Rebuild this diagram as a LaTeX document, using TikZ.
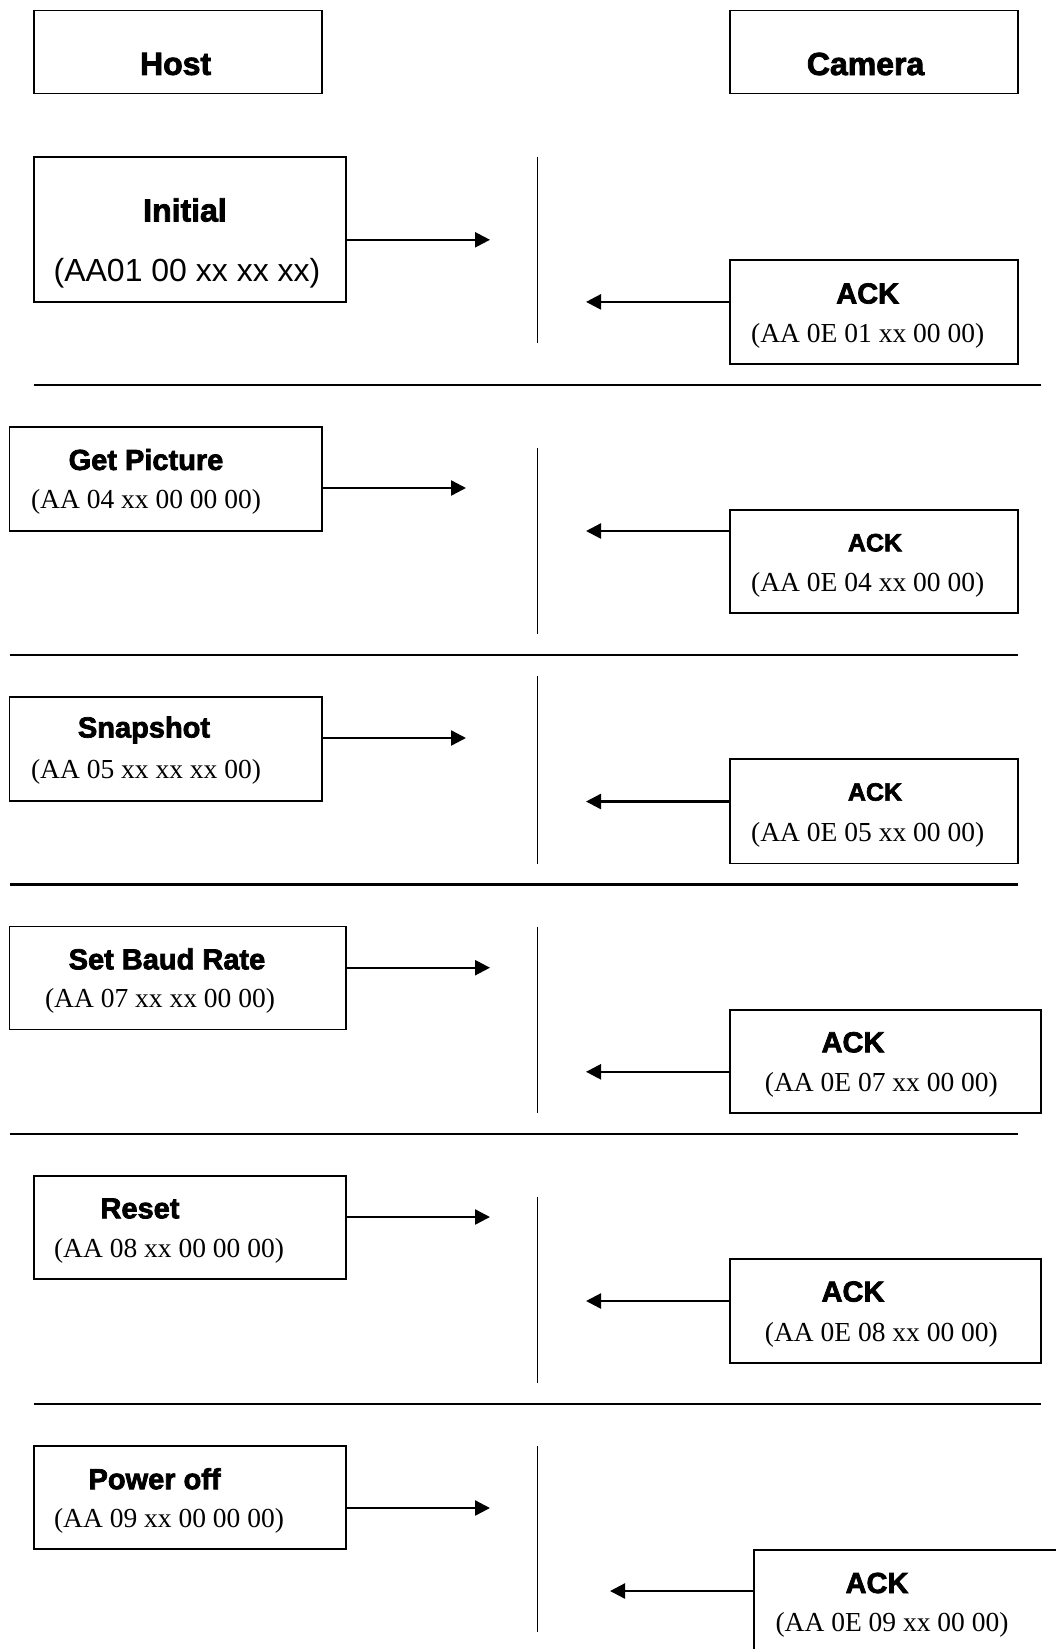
\documentclass[tikz,border=0pt]{standalone}
\usepackage{fontspec}
\setmainfont{Liberation Serif}
\newfontfamily\arial{Liberation Sans}
\newfontfamily\heavy[FakeBold=2.5]{Liberation Sans Bold}
\usetikzlibrary{arrows.meta}
\tikzset{
  box/.style={draw, line width=1.8pt, inner sep=0pt, rectangle},
  lbl/.style={inner sep=0pt, anchor=center},
  big/.style={lbl, font=\heavy\fontsize{32}{36}\selectfont},
  mid/.style={lbl, font=\heavy\fontsize{29}{33}\selectfont},
  sml/.style={lbl, font=\heavy\fontsize{25}{29}\selectfont},
  code/.style={lbl, font=\fontsize{27.5}{31}\selectfont},
  acode/.style={lbl, font=\arial\fontsize{32}{36}\selectfont},
  arr/.style={line width=2.4pt, -{Triangle[length=15pt,width=15pt]}},
  sep/.style={line width=2.4pt},
  life/.style={line width=1.8pt},
}
\begin{document}
\begin{tikzpicture}[x=1pt,y=-1pt]
\useasboundingbox (0,0) rectangle (1056,1649);
\clip (0,0) rectangle (1056,1649);
% header
\node[box, minimum width=288pt, minimum height=83pt] (host) at (177.8,52) {};
\node[box, minimum width=288pt, minimum height=83pt] (cam) at (874,52) {};
\node[big] (hostt) at (175.6,64) {Host};
\node[big] (camt) at (865.6,64) {Camera};
% section 1
\node[box, minimum width=312.3pt, minimum height=145.2pt] (init) at (189.9,229.3) {};
\node[big] (initt) at (185,210) {Initial};
\node[acode] (initc) at (187,273) {(AA01 00 xx xx xx)};
\node[box, minimum width=288pt, minimum height=104.2pt] (ack1) at (874,311.9) {};
\node[mid] (ack1t) at (867.7,293.5) {ACK};
\node[code] (ack1c) at (867.7,335.5) {(AA 0E 01 xx 00 00)};
\coordinate (a1) at (490,239.8);
\coordinate (r1) at (586,301.9);
\draw[arr] (init.east |- a1) -- (a1);
\draw[arr] (ack1.west |- r1) -- (r1);
\draw[life] (537.5,156.7) -- (537.5,343);
\draw[sep] (33.7,385) -- (1041.3,385);
% section 2
\node[box, minimum width=312.5pt, minimum height=104pt] (getp) at (165.7,479) {};
\node[mid] (getpt) at (146,459.6) {Get Picture};
\node[code] (getpc) at (146,501.6) {(AA 04 xx 00 00 00)};
\node[box, minimum width=288pt, minimum height=103pt] (ack2) at (874,561.5) {};
\node[sml] (ack2t) at (875,542.7) {ACK};
\node[code] (ack2c) at (867.7,584.7) {(AA 0E 04 xx 00 00)};
\coordinate (a2) at (466,488);
\coordinate (r2) at (586,531);
\draw[arr] (getp.east |- a2) -- (a2);
\draw[arr] (ack2.west |- r2) -- (r2);
\draw[life] (537.5,448) -- (537.5,634);
\draw[sep] (9.5,655) -- (1018,655);
% section 3
\node[box, minimum width=312.5pt, minimum height=104pt] (snap) at (165.7,749) {};
\node[mid] (snapt) at (144,730) {Snapshot};
\node[code] (snapc) at (146,772) {(AA 05 xx xx xx 00)};
\node[box, minimum width=288pt, minimum height=104.5pt] (ack3) at (874,811.2) {};
\node[sml] (ack3t) at (875,792) {ACK};
\node[code] (ack3c) at (867.7,835) {(AA 0E 05 xx 00 00)};
\coordinate (a3) at (466,738);
\coordinate (r3) at (586,801.5);
\draw[arr] (snap.east |- a3) -- (a3);
\draw[arr] (ack3.west |- r3) -- (r3);
\draw[life] (537.5,676) -- (537.5,863.5);
\draw[sep] (9.5,884.5) -- (1018,884.5);
% section 4
\node[box, minimum width=336.5pt, minimum height=103pt] (baud) at (177.8,978) {};
\node[mid] (baudt) at (167,959) {Set Baud Rate};
\node[code] (baudc) at (160,1001) {(AA 07 xx xx 00 00)};
\node[box, minimum width=311.3pt, minimum height=103pt] (ack4) at (885.6,1061.2) {};
\node[mid] (ack4t) at (853,1042.3) {ACK};
\node[code] (ack4c) at (881.4,1084.4) {(AA 0E 07 xx 00 00)};
\coordinate (a4) at (490,967.7);
\coordinate (r4) at (586,1071.8);
\draw[arr] (baud.east |- a4) -- (a4);
\draw[arr] (ack4.west |- r4) -- (r4);
\draw[life] (537.5,926.6) -- (537.5,1112.8);
\draw[sep] (9.5,1133.8) -- (1018,1133.8);
% section 5
\node[box, minimum width=312.3pt, minimum height=103pt] (reset) at (189.9,1227.5) {};
\node[mid] (resett) at (140,1208.5) {Reset};
\node[code] (resetc) at (169,1250.5) {(AA 08 xx 00 00 00)};
\node[box, minimum width=311.3pt, minimum height=104pt] (ack5) at (885.6,1311) {};
\node[mid] (ack5t) at (853,1291.6) {ACK};
\node[code] (ack5c) at (881.4,1334.7) {(AA 0E 08 xx 00 00)};
\coordinate (a5) at (490,1217);
\coordinate (r5) at (586,1301);
\draw[arr] (reset.east |- a5) -- (a5);
\draw[arr] (ack5.west |- r5) -- (r5);
\draw[life] (537.5,1197) -- (537.5,1383);
\draw[sep] (33.7,1404) -- (1041.3,1404);
% section 6
\node[box, minimum width=312.3pt, minimum height=103pt] (power) at (189.9,1497.5) {};
\node[mid] (powert) at (154.6,1478.8) {Power off};
\node[code] (powerc) at (169,1520.8) {(AA 09 xx 00 00 00)};
\node[box, minimum width=326pt, minimum height=120pt] (ack6) at (917,1610) {};
\node[mid] (ack6t) at (877,1583) {ACK};
\node[code] (ack6c) at (892,1625) {(AA 0E 09 xx 00 00)};
\coordinate (a6) at (490,1508);
\coordinate (r6) at (610,1591);
\draw[arr] (power.east |- a6) -- (a6);
\draw[arr] (ack6.west |- r6) -- (r6);
\draw[life] (537.5,1446) -- (537.5,1632);
\end{tikzpicture}
\end{document}
